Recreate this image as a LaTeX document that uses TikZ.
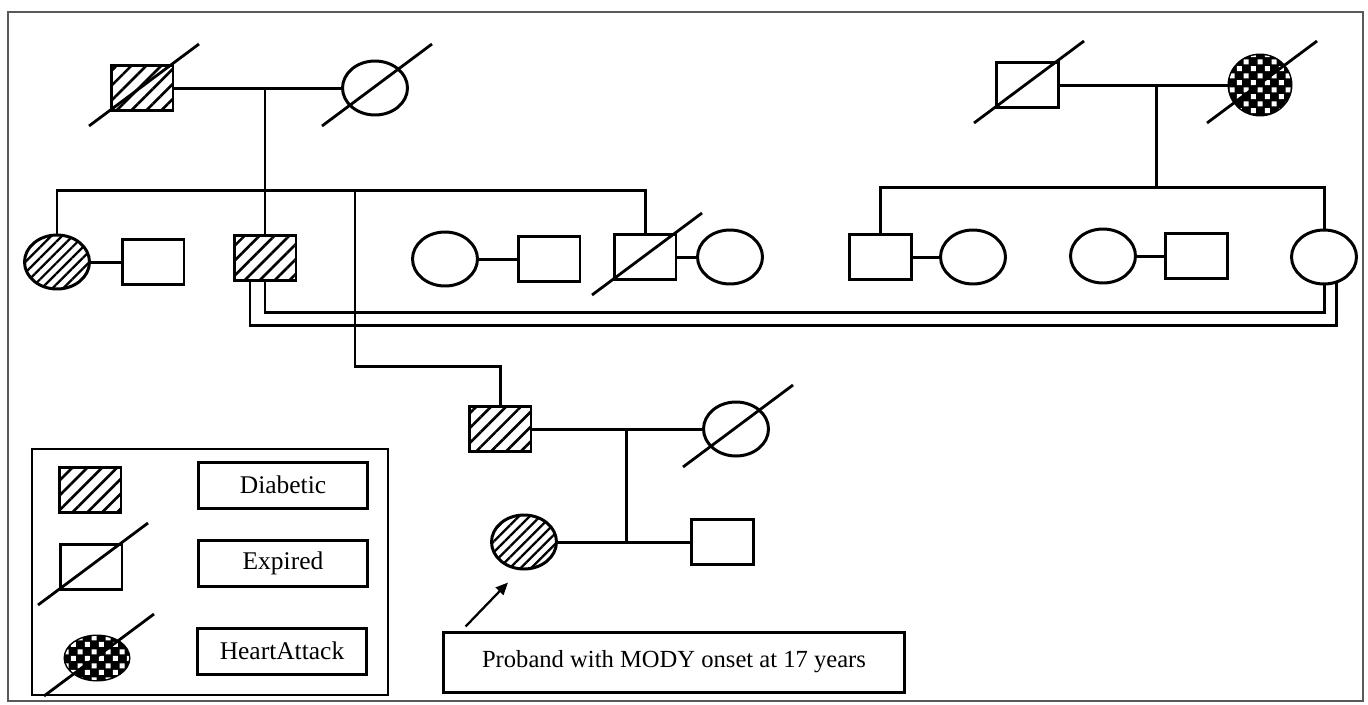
\documentclass[tikz,border=0pt]{standalone}
\usepackage{fontspec}
\setmainfont{Liberation Serif}
\usetikzlibrary{shapes.geometric,patterns.meta,arrows.meta,calc}

\tikzdeclarepattern{
  name=checks,
  type=uncolored,
  bottom left={(0pt,0pt)},
  top right={(8pt,8pt)},
  tile size={(8pt,8pt)},
  code={
    \fill (0.6pt,0.6pt) rectangle (3.6pt,3.6pt);
    \fill (4.6pt,4.6pt) rectangle (7.6pt,7.6pt);
  }
}

\begin{document}
\begin{tikzpicture}[x=0.02cm,y=-0.02cm,>={Triangle[length=7pt,width=6pt]},line width=1.7pt]
  \tikzstyle{male}=[draw, rectangle, minimum width=1.24cm, minimum height=0.9cm, inner sep=0pt]
  \tikzstyle{female}=[draw, ellipse, minimum width=1.3cm, minimum height=1.08cm, inner sep=0pt]
  \tikzstyle{diab}=[pattern={Lines[angle=45,distance=6pt,line width=1.5pt]}]
  \tikzstyle{diabf}=[pattern={Lines[angle=45,distance=4.3pt,line width=1.3pt]}]
  \tikzstyle{heart}=[fill=black, postaction={pattern=checks, pattern color=white}]
  \tikzstyle{dead}=[line width=1.6pt]
  \tikzstyle{key}=[draw, minimum width=3.4cm, minimum height=0.92cm, font=\fontsize{14.5}{16}\selectfont]

  \useasboundingbox (0,0) rectangle (1368,704);
  \draw[line width=0.6pt, black!65] (8,12) rectangle (1363,701);

  % grandparents
  \node[male, diab] (gf1) at (142,88) {};
  \node[female] (gm1) at (375,88) {};
  \node[male] (gf2) at (1027,85) {};
  \node[female, heart, minimum width=1.24cm, minimum height=1.2cm] (gm2) at (1260,85) {};

  % second generation
  \node[female, diabf] (aunt) at (57,262) {};
  \node[male] (auntsp) at (153,262) {};
  \node[male, diab] (uncle) at (265,258) {};
  \node[female] (aunt2) at (445,259) {};
  \node[male] (aunt2sp) at (549,259) {};
  \node[male] (uncle2) at (645,257) {};
  \node[female] (uncle2sp) at (730,257) {};
  \node[male] (uncle3) at (880,257) {};
  \node[female] (uncle3sp) at (973,257) {};
  \node[female] (aunt4) at (1103,256) {};
  \node[male] (aunt4sp) at (1196,256) {};
  \node[female] (cousin) at (1324,257) {};

  % third generation
  \node[male, diab] (father) at (500,429) {};
  \node[female] (mother) at (736,429) {};
  \node[female, diabf] (proband) at (524,542) {};
  \node[male] (prosp) at (722,542) {};

  \node[draw, minimum width=9.24cm, minimum height=1.2cm, font=\fontsize{14}{16}\selectfont] (probox) at (674,662) {Proband with MODY onset at 17 years};

  % legend
  \node[draw, minimum width=7.12cm, minimum height=4.92cm, line width=1.3pt] (legend) at (210,572) {};
  \node[male, diab] (kdiab) at (90,490) {};
  \node[male] (kdead) at (91,567) {};
  \node[female, heart, minimum width=1.28cm, minimum height=0.88cm] (kheart) at (97,658) {};
  \node[key] (ldiab) at (283,485) {Diabetic};
  \node[key] (ldead) at (283,563) {Expired};
  \node[key] (lheart) at (282,651) {HeartAttack};

  \foreach \n in {gf1,gm1,gf2,gm2,uncle2,mother,kdead,kheart}
    \draw[dead] ($(\n)+(-53,38)$) -- ($(\n)+(57,-44)$);

  % left family
  \draw (gf1) -- (gm1);
  \coordinate (ml) at (265,88);
  \coordinate (sl) at (265,190);
  \coordinate (sb) at (355,190);
  \coordinate (fb) at (355,366);
  \draw (ml) -- (uncle);
  \draw (aunt) |- (sl) -| (uncle2);
  \draw (sb) -- (fb) -| (father);

  % right family
  \draw (gf2) -- (gm2);
  \coordinate (mr) at (1156,85);
  \coordinate (sr) at (1156,187);
  \draw (mr) -- (sr);
  \draw (uncle3) |- (sr) -| (cousin);

  % couples
  \draw (aunt) -- (auntsp);
  \draw (aunt2) -- (aunt2sp);
  \draw (uncle2) -- (uncle2sp);
  \draw (uncle3) -- (uncle3sp);
  \draw (aunt4) -- (aunt4sp);

  % consanguinity
  \coordinate (ci) at (800,312);
  \coordinate (co) at (800,325);
  \draw (uncle.south) |- (ci) -| (cousin.south);
  \draw ($(uncle.south)+(-15,0)$) |- (co) -| ($(cousin.south)+(12,-2)$);

  % proband family
  \draw (father) -- (mother);
  \coordinate (m3) at (626,429);
  \coordinate (c3) at (626,542);
  \draw (m3) -- (c3);
  \draw (proband) -- (prosp);
  \draw[->, line width=1.3pt] ($(probox.north west)+(24,-4)$) -- ($(proband.south)+(-16,12)$);
\end{tikzpicture}
\end{document}
